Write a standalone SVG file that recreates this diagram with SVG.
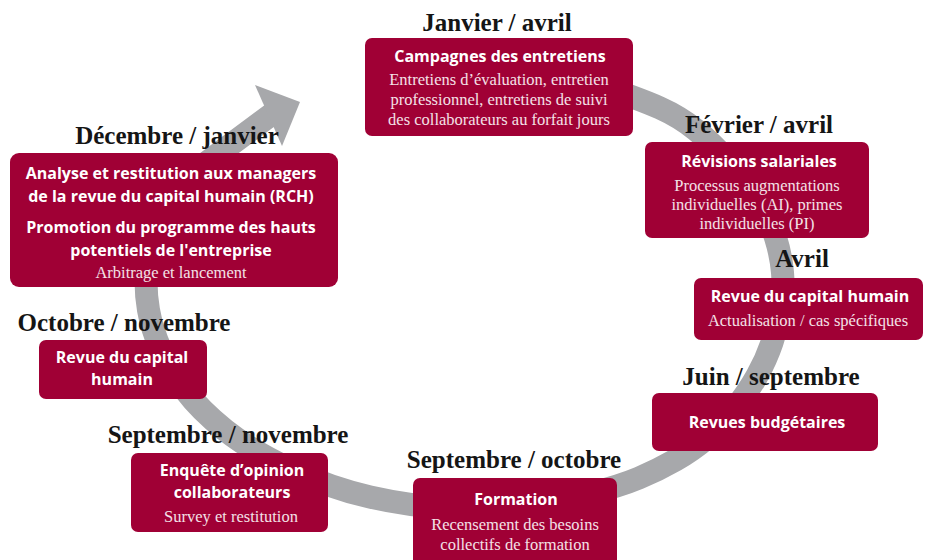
<svg xmlns="http://www.w3.org/2000/svg" width="928" height="560" viewBox="0 0 928 560">
<style>
.box{fill:#a00035}
.lbl{font-family:"Liberation Serif","Times New Roman",serif;font-weight:bold;font-size:25px;fill:#151515;text-anchor:middle}
.ttl{font-family:"Open Sans","Noto Sans",sans-serif;font-weight:bold;font-size:16px;fill:#ffffff;text-anchor:middle}
.sub{font-family:"Liberation Serif","Times New Roman",serif;font-size:16.5px;fill:#f4e1e7;text-anchor:middle}
.arc{fill:none;stroke:#a7a8ab;stroke-width:23}
</style>
<g id="connectors">
<path class="arc" d="M590,82 Q640,99 660,108 Q680,117 696,130 Q712,143 728.5,161.5 Q745,180 757.5,200 Q770,220 775.5,237.5 Q781,255 782.5,272.5 Q784,290 781,307.5 Q778,325 772,342.5 Q766,360 757,376 Q748,392 735,408.5 Q722,425 707.5,437.5 Q693,450 675.5,460 Q658,470 639,478 Q620,486 590,493.5 Q560,501 520,505 Q480,509 445,507.5 Q410,506 370,497 Q330,488 290,469 Q250,450 225,430 Q200,410 185,390 Q170,370 161,350 Q152,330 148.5,310 Q145,290 146.5,270 Q148,250 155.5,230 Q163,210 175,194 Q187,178 200.5,167 L272,114"/>
<polygon points="255,85 300,102 282,146" fill="#a7a8ab"/>
</g>
<g id="n-janvier">
<text class="lbl" x="497" y="31">Janvier / avril</text>
<rect class="box" x="365" y="38" width="268" height="98" rx="7"/>
<text class="ttl" x="500" y="62">Campagnes des entretiens</text>
<text class="sub" x="499" y="85">Entretiens d’évaluation, entretien</text>
<text class="sub" x="499" y="105">professionnel, entretiens de suivi</text>
<text class="sub" x="499" y="125">des collaborateurs au forfait jours</text>
</g>
<g id="n-fevrier">
<text class="lbl" x="759" y="133">Février / avril</text>
<rect class="box" x="645" y="142" width="224" height="96" rx="7"/>
<text class="ttl" x="759" y="167">Révisions salariales</text>
<text class="sub" x="757" y="191">Processus augmentations</text>
<text class="sub" x="757" y="210">individuelles (AI), primes</text>
<text class="sub" x="757" y="229">individuelles (PI)</text>
</g>
<g id="n-avril">
<text class="lbl" x="802" y="267">Avril</text>
<rect class="box" x="694" y="278" width="229" height="62" rx="7"/>
<text class="ttl" x="810" y="302">Revue du capital humain</text>
<text class="sub" x="808" y="326">Actualisation / cas spécifiques</text>
</g>
<g id="n-juin">
<text class="lbl" x="771" y="385">Juin / septembre</text>
<rect class="box" x="652" y="393" width="226" height="58" rx="7"/>
<text class="ttl" x="767" y="428">Revues budgétaires</text>
</g>
<g id="n-sept-oct">
<text class="lbl" x="514" y="468">Septembre / octobre</text>
<rect class="box" x="413" y="478" width="204" height="92" rx="7"/>
<text class="ttl" x="516" y="505">Formation</text>
<text class="sub" x="515" y="530">Recensement des besoins</text>
<text class="sub" x="515" y="550">collectifs de formation</text>
</g>
<g id="n-sept-nov">
<text class="lbl" x="228" y="443">Septembre / novembre</text>
<rect class="box" x="131" y="453" width="197" height="79" rx="7"/>
<text class="ttl" x="232" y="476">Enquête d’opinion</text>
<text class="ttl" x="232" y="498">collaborateurs</text>
<text class="sub" x="231" y="522">Survey et restitution</text>
</g>
<g id="n-oct-nov">
<text class="lbl" x="124" y="331">Octobre / novembre</text>
<rect class="box" x="39" y="340" width="168" height="59" rx="7"/>
<text class="ttl" x="122" y="363">Revue du capital</text>
<text class="ttl" x="122" y="385">humain</text>
</g>
<g id="n-dec">
<text class="lbl" x="177" y="144">Décembre / janvier</text>
<rect class="box" x="10" y="153" width="328" height="134" rx="9"/>
<text class="ttl" x="171" y="179">Analyse et restitution aux managers</text>
<text class="ttl" x="171" y="202">de la revue du capital humain (RCH)</text>
<text class="ttl" x="171" y="233">Promotion du programme des hauts</text>
<text class="ttl" x="171" y="256">potentiels de l'entreprise</text>
<text class="sub" x="171" y="278">Arbitrage et lancement</text>
</g>
</svg>
